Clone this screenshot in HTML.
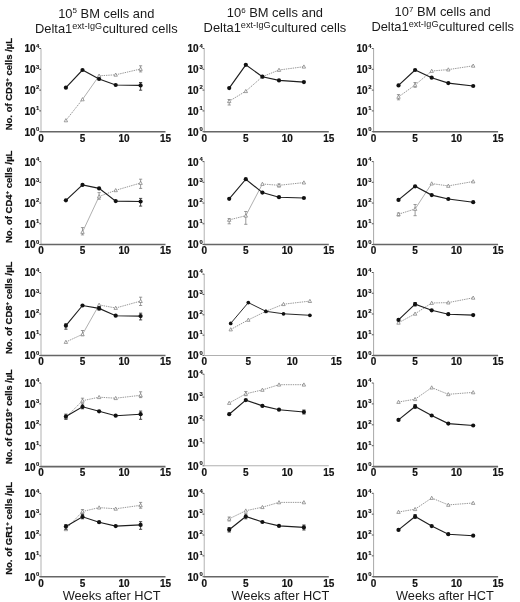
<!DOCTYPE html><html><head><meta charset="utf-8"><style>html,body{margin:0;padding:0;background:#fff;}svg{display:block;filter:grayscale(1);}text{font-family:"Liberation Sans", sans-serif;}</style></head><body>
<svg width="520" height="602" viewBox="0 0 520 602">
<rect width="520" height="602" fill="#fff"/>
<text x="106.3" y="17.5" font-size="12.9" text-anchor="middle" fill="#1a1a1a">10<tspan dy="-4.5" font-size="8">5</tspan><tspan dy="4.5"> BM cells and</tspan></text>
<text x="106.3" y="32.7" font-size="12.9" text-anchor="middle" fill="#1a1a1a">Delta1<tspan dy="-4.2" font-size="9.1">ext-IgG</tspan><tspan dx="0.3" dy="4.2">cultured cells</tspan></text>
<text x="274.9" y="17.3" font-size="12.9" text-anchor="middle" fill="#1a1a1a">10<tspan dy="-4.5" font-size="8">6</tspan><tspan dy="4.5"> BM cells and</tspan></text>
<text x="274.9" y="32.4" font-size="12.9" text-anchor="middle" fill="#1a1a1a">Delta1<tspan dy="-4.2" font-size="9.1">ext-IgG</tspan><tspan dx="0.3" dy="4.2">cultured cells</tspan></text>
<text x="442.7" y="16.4" font-size="12.9" text-anchor="middle" fill="#1a1a1a">10<tspan dy="-4.5" font-size="8">7</tspan><tspan dy="4.5"> BM cells and</tspan></text>
<text x="442.7" y="31.4" font-size="12.9" text-anchor="middle" fill="#1a1a1a">Delta1<tspan dy="-4.2" font-size="9.1">ext-IgG</tspan><tspan dx="0.3" dy="4.2">cultured cells</tspan></text>
<line x1="41" y1="48.5" x2="41" y2="131.7" stroke="#c8c8c8" stroke-width="1.4"/>
<line x1="39.2" y1="48.5" x2="41" y2="48.5" stroke="#555" stroke-width="1"/>
<text x="35.5" y="52.4" font-size="10" font-weight="bold" text-anchor="end" fill="#111" stroke="#111" stroke-width="0.18">10</text>
<text x="36" y="47.8" font-size="5.9" font-weight="bold" fill="#111" stroke="#111" stroke-width="0.12">4</text>
<line x1="39.2" y1="69.3" x2="41" y2="69.3" stroke="#555" stroke-width="1"/>
<text x="35.5" y="73.2" font-size="10" font-weight="bold" text-anchor="end" fill="#111" stroke="#111" stroke-width="0.18">10</text>
<text x="36" y="68.6" font-size="5.9" font-weight="bold" fill="#111" stroke="#111" stroke-width="0.12">3</text>
<line x1="39.2" y1="90.1" x2="41" y2="90.1" stroke="#555" stroke-width="1"/>
<text x="35.5" y="94" font-size="10" font-weight="bold" text-anchor="end" fill="#111" stroke="#111" stroke-width="0.18">10</text>
<text x="36" y="89.4" font-size="5.9" font-weight="bold" fill="#111" stroke="#111" stroke-width="0.12">2</text>
<line x1="39.2" y1="110.9" x2="41" y2="110.9" stroke="#555" stroke-width="1"/>
<text x="35.5" y="114.8" font-size="10" font-weight="bold" text-anchor="end" fill="#111" stroke="#111" stroke-width="0.18">10</text>
<text x="36" y="110.2" font-size="5.9" font-weight="bold" fill="#111" stroke="#111" stroke-width="0.12">1</text>
<line x1="39.2" y1="131.7" x2="41" y2="131.7" stroke="#555" stroke-width="1"/>
<text x="35.5" y="135.6" font-size="10" font-weight="bold" text-anchor="end" fill="#111" stroke="#111" stroke-width="0.18">10</text>
<text x="36" y="131" font-size="5.9" font-weight="bold" fill="#111" stroke="#111" stroke-width="0.12">0</text>
<line stroke="#666" stroke-width="1.6" x1="40.4" y1="131.7" x2="165.5" y2="131.7"/>
<text x="41" y="141.5" font-size="10" font-weight="bold" text-anchor="middle" fill="#111" stroke="#111" stroke-width="0.18">0</text>
<text x="82.5" y="141.5" font-size="10" font-weight="bold" text-anchor="middle" fill="#111" stroke="#111" stroke-width="0.18">5</text>
<text x="124" y="141.5" font-size="10" font-weight="bold" text-anchor="middle" fill="#111" stroke="#111" stroke-width="0.18">10</text>
<text x="165.5" y="141.5" font-size="10" font-weight="bold" text-anchor="middle" fill="#111" stroke="#111" stroke-width="0.18">15</text>
<line x1="65.9" y1="120.4" x2="82.5" y2="99.4" stroke="#8c8c8c" stroke-width="0.9" stroke-dasharray="1.4,0.9"/>
<line x1="82.5" y1="99.4" x2="99.1" y2="75.8" stroke="#a0a0a0" stroke-width="0.85"/>
<line x1="99.1" y1="75.8" x2="115.7" y2="74.8" stroke="#8c8c8c" stroke-width="0.9" stroke-dasharray="1.4,0.9"/>
<line x1="115.7" y1="74.8" x2="140.6" y2="69" stroke="#8c8c8c" stroke-width="0.9" stroke-dasharray="1.4,0.9"/>
<path d="M140.6 65.8V71.9M139 65.8H142.2M139 71.9H142.2" stroke="#888" stroke-width="0.85" fill="none"/>
<path d="M65.9 118.6L67.6 121.8L64.2 121.8Z" fill="#fff" stroke="#808080" stroke-width="0.75"/>
<path d="M82.5 97.6L84.2 100.8L80.8 100.8Z" fill="#fff" stroke="#808080" stroke-width="0.75"/>
<path d="M99.1 74L100.8 77.2L97.4 77.2Z" fill="#fff" stroke="#808080" stroke-width="0.75"/>
<path d="M115.7 73L117.4 76.2L114 76.2Z" fill="#fff" stroke="#808080" stroke-width="0.75"/>
<path d="M140.6 67.2L142.3 70.4L138.9 70.4Z" fill="#fff" stroke="#808080" stroke-width="0.75"/>
<polyline points="65.9,87.7 82.5,70 99.1,79 115.7,85 140.6,85.4" fill="none" stroke="#1e1e1e" stroke-width="1.15"/>
<path d="M140.6 82.5V90.2M139 82.5H142.2M139 90.2H142.2" stroke="#333" stroke-width="0.9" fill="none"/>
<circle cx="65.9" cy="87.7" r="2.1" fill="#111"/>
<circle cx="82.5" cy="70" r="2.1" fill="#111"/>
<circle cx="99.1" cy="79" r="2.1" fill="#111"/>
<circle cx="115.7" cy="85" r="2.1" fill="#111"/>
<circle cx="140.6" cy="85.4" r="2.1" fill="#111"/>
<line x1="204.3" y1="48.5" x2="204.3" y2="131.7" stroke="#c8c8c8" stroke-width="1.4"/>
<line x1="202.5" y1="48.5" x2="204.3" y2="48.5" stroke="#555" stroke-width="1"/>
<text x="198.6" y="52.4" font-size="10" font-weight="bold" text-anchor="end" fill="#111" stroke="#111" stroke-width="0.18">10</text>
<text x="199.5" y="47.8" font-size="5.9" font-weight="bold" fill="#111" stroke="#111" stroke-width="0.12">4</text>
<line x1="202.5" y1="69.3" x2="204.3" y2="69.3" stroke="#555" stroke-width="1"/>
<text x="198.6" y="73.2" font-size="10" font-weight="bold" text-anchor="end" fill="#111" stroke="#111" stroke-width="0.18">10</text>
<text x="199.5" y="68.6" font-size="5.9" font-weight="bold" fill="#111" stroke="#111" stroke-width="0.12">3</text>
<line x1="202.5" y1="90.1" x2="204.3" y2="90.1" stroke="#555" stroke-width="1"/>
<text x="198.6" y="94" font-size="10" font-weight="bold" text-anchor="end" fill="#111" stroke="#111" stroke-width="0.18">10</text>
<text x="199.5" y="89.4" font-size="5.9" font-weight="bold" fill="#111" stroke="#111" stroke-width="0.12">2</text>
<line x1="202.5" y1="110.9" x2="204.3" y2="110.9" stroke="#555" stroke-width="1"/>
<text x="198.6" y="114.8" font-size="10" font-weight="bold" text-anchor="end" fill="#111" stroke="#111" stroke-width="0.18">10</text>
<text x="199.5" y="110.2" font-size="5.9" font-weight="bold" fill="#111" stroke="#111" stroke-width="0.12">1</text>
<line x1="202.5" y1="131.7" x2="204.3" y2="131.7" stroke="#555" stroke-width="1"/>
<text x="198.6" y="135.6" font-size="10" font-weight="bold" text-anchor="end" fill="#111" stroke="#111" stroke-width="0.18">10</text>
<text x="199.5" y="131" font-size="5.9" font-weight="bold" fill="#111" stroke="#111" stroke-width="0.12">0</text>
<line stroke="#666" stroke-width="1.6" x1="203.7" y1="131.7" x2="328.8" y2="131.7"/>
<text x="204.3" y="141.5" font-size="10" font-weight="bold" text-anchor="middle" fill="#111" stroke="#111" stroke-width="0.18">0</text>
<text x="245.8" y="141.5" font-size="10" font-weight="bold" text-anchor="middle" fill="#111" stroke="#111" stroke-width="0.18">5</text>
<text x="287.3" y="141.5" font-size="10" font-weight="bold" text-anchor="middle" fill="#111" stroke="#111" stroke-width="0.18">10</text>
<text x="328.8" y="141.5" font-size="10" font-weight="bold" text-anchor="middle" fill="#111" stroke="#111" stroke-width="0.18">15</text>
<line x1="229.2" y1="101.2" x2="245.8" y2="91.2" stroke="#8c8c8c" stroke-width="0.9" stroke-dasharray="1.4,0.9"/>
<line x1="245.8" y1="91.2" x2="262.4" y2="76.7" stroke="#8c8c8c" stroke-width="0.9" stroke-dasharray="1.4,0.9"/>
<line x1="262.4" y1="76.7" x2="279" y2="70" stroke="#8c8c8c" stroke-width="0.9" stroke-dasharray="1.4,0.9"/>
<line x1="279" y1="70" x2="303.9" y2="66.7" stroke="#8c8c8c" stroke-width="0.9" stroke-dasharray="1.4,0.9"/>
<path d="M229.2 99.5V105M227.6 99.5H230.8M227.6 105H230.8" stroke="#888" stroke-width="0.85" fill="none"/>
<path d="M229.2 99.4L230.9 102.6L227.5 102.6Z" fill="#fff" stroke="#808080" stroke-width="0.75"/>
<path d="M245.8 89.4L247.5 92.6L244.1 92.6Z" fill="#fff" stroke="#808080" stroke-width="0.75"/>
<path d="M262.4 74.9L264.1 78.1L260.7 78.1Z" fill="#fff" stroke="#808080" stroke-width="0.75"/>
<path d="M279 68.2L280.7 71.4L277.3 71.4Z" fill="#fff" stroke="#808080" stroke-width="0.75"/>
<path d="M303.9 64.9L305.6 68.1L302.2 68.1Z" fill="#fff" stroke="#808080" stroke-width="0.75"/>
<polyline points="229.2,88.1 245.8,64.8 262.4,76.7 279,80.4 303.9,82.1" fill="none" stroke="#1e1e1e" stroke-width="1.15"/>
<circle cx="229.2" cy="88.1" r="2.1" fill="#111"/>
<circle cx="245.8" cy="64.8" r="2.1" fill="#111"/>
<circle cx="262.4" cy="76.7" r="2.1" fill="#111"/>
<circle cx="279" cy="80.4" r="2.1" fill="#111"/>
<circle cx="303.9" cy="82.1" r="2.1" fill="#111"/>
<line x1="373.6" y1="48.5" x2="373.6" y2="131.7" stroke="#a8a8a8" stroke-width="1"/>
<line x1="371.8" y1="48.5" x2="373.6" y2="48.5" stroke="#555" stroke-width="1"/>
<text x="367.7" y="52.4" font-size="10" font-weight="bold" text-anchor="end" fill="#111" stroke="#111" stroke-width="0.18">10</text>
<text x="368.3" y="47.8" font-size="5.9" font-weight="bold" fill="#111" stroke="#111" stroke-width="0.12">4</text>
<line x1="371.8" y1="69.3" x2="373.6" y2="69.3" stroke="#555" stroke-width="1"/>
<text x="367.7" y="73.2" font-size="10" font-weight="bold" text-anchor="end" fill="#111" stroke="#111" stroke-width="0.18">10</text>
<text x="368.3" y="68.6" font-size="5.9" font-weight="bold" fill="#111" stroke="#111" stroke-width="0.12">3</text>
<line x1="371.8" y1="90.1" x2="373.6" y2="90.1" stroke="#555" stroke-width="1"/>
<text x="367.7" y="94" font-size="10" font-weight="bold" text-anchor="end" fill="#111" stroke="#111" stroke-width="0.18">10</text>
<text x="368.3" y="89.4" font-size="5.9" font-weight="bold" fill="#111" stroke="#111" stroke-width="0.12">2</text>
<line x1="371.8" y1="110.9" x2="373.6" y2="110.9" stroke="#555" stroke-width="1"/>
<text x="367.7" y="114.8" font-size="10" font-weight="bold" text-anchor="end" fill="#111" stroke="#111" stroke-width="0.18">10</text>
<text x="368.3" y="110.2" font-size="5.9" font-weight="bold" fill="#111" stroke="#111" stroke-width="0.12">1</text>
<line x1="371.8" y1="131.7" x2="373.6" y2="131.7" stroke="#555" stroke-width="1"/>
<text x="367.7" y="135.6" font-size="10" font-weight="bold" text-anchor="end" fill="#111" stroke="#111" stroke-width="0.18">10</text>
<text x="368.3" y="131" font-size="5.9" font-weight="bold" fill="#111" stroke="#111" stroke-width="0.12">0</text>
<line stroke="#666" stroke-width="1.6" x1="373" y1="131.7" x2="498.1" y2="131.7"/>
<text x="373.6" y="141.5" font-size="10" font-weight="bold" text-anchor="middle" fill="#111" stroke="#111" stroke-width="0.18">0</text>
<text x="415.1" y="141.5" font-size="10" font-weight="bold" text-anchor="middle" fill="#111" stroke="#111" stroke-width="0.18">5</text>
<text x="456.6" y="141.5" font-size="10" font-weight="bold" text-anchor="middle" fill="#111" stroke="#111" stroke-width="0.18">10</text>
<text x="498.1" y="141.5" font-size="10" font-weight="bold" text-anchor="middle" fill="#111" stroke="#111" stroke-width="0.18">15</text>
<line x1="398.5" y1="96.9" x2="415.1" y2="85" stroke="#8c8c8c" stroke-width="0.9" stroke-dasharray="1.4,0.9"/>
<line x1="415.1" y1="85" x2="431.7" y2="71" stroke="#8c8c8c" stroke-width="0.9" stroke-dasharray="1.4,0.9"/>
<line x1="431.7" y1="71" x2="448.3" y2="69.6" stroke="#8c8c8c" stroke-width="0.9" stroke-dasharray="1.4,0.9"/>
<line x1="448.3" y1="69.6" x2="473.2" y2="65.8" stroke="#8c8c8c" stroke-width="0.9" stroke-dasharray="1.4,0.9"/>
<path d="M398.5 94.6V99.8M396.9 94.6H400.1M396.9 99.8H400.1" stroke="#888" stroke-width="0.85" fill="none"/>
<path d="M415.1 82.5V87.3M413.5 82.5H416.7M413.5 87.3H416.7" stroke="#888" stroke-width="0.85" fill="none"/>
<path d="M398.5 95.1L400.2 98.3L396.8 98.3Z" fill="#fff" stroke="#808080" stroke-width="0.75"/>
<path d="M415.1 83.2L416.8 86.4L413.4 86.4Z" fill="#fff" stroke="#808080" stroke-width="0.75"/>
<path d="M431.7 69.2L433.4 72.4L430 72.4Z" fill="#fff" stroke="#808080" stroke-width="0.75"/>
<path d="M448.3 67.8L450 71L446.6 71Z" fill="#fff" stroke="#808080" stroke-width="0.75"/>
<path d="M473.2 64L474.9 67.2L471.5 67.2Z" fill="#fff" stroke="#808080" stroke-width="0.75"/>
<polyline points="398.5,85.4 415.1,70 431.7,77.7 448.3,83.1 473.2,86" fill="none" stroke="#1e1e1e" stroke-width="1.15"/>
<circle cx="398.5" cy="85.4" r="2.1" fill="#111"/>
<circle cx="415.1" cy="70" r="2.1" fill="#111"/>
<circle cx="431.7" cy="77.7" r="2.1" fill="#111"/>
<circle cx="448.3" cy="83.1" r="2.1" fill="#111"/>
<circle cx="473.2" cy="86" r="2.1" fill="#111"/>
<text transform="translate(11.8 130.3) rotate(-90)" font-size="9.5" font-weight="bold" fill="#111" stroke="#111" stroke-width="0.22">No. of CD3<tspan dy="-3.3" font-size="6">+</tspan><tspan dy="3.3"> cells /µL</tspan></text>
<line x1="41" y1="161.6" x2="41" y2="244.5" stroke="#c8c8c8" stroke-width="1.4"/>
<line x1="39.2" y1="161.6" x2="41" y2="161.6" stroke="#555" stroke-width="1"/>
<text x="35.5" y="165.5" font-size="10" font-weight="bold" text-anchor="end" fill="#111" stroke="#111" stroke-width="0.18">10</text>
<text x="36" y="160.9" font-size="5.9" font-weight="bold" fill="#111" stroke="#111" stroke-width="0.12">4</text>
<line x1="39.2" y1="182.32" x2="41" y2="182.32" stroke="#555" stroke-width="1"/>
<text x="35.5" y="186.22" font-size="10" font-weight="bold" text-anchor="end" fill="#111" stroke="#111" stroke-width="0.18">10</text>
<text x="36" y="181.62" font-size="5.9" font-weight="bold" fill="#111" stroke="#111" stroke-width="0.12">3</text>
<line x1="39.2" y1="203.05" x2="41" y2="203.05" stroke="#555" stroke-width="1"/>
<text x="35.5" y="206.95" font-size="10" font-weight="bold" text-anchor="end" fill="#111" stroke="#111" stroke-width="0.18">10</text>
<text x="36" y="202.35" font-size="5.9" font-weight="bold" fill="#111" stroke="#111" stroke-width="0.12">2</text>
<line x1="39.2" y1="223.78" x2="41" y2="223.78" stroke="#555" stroke-width="1"/>
<text x="35.5" y="227.68" font-size="10" font-weight="bold" text-anchor="end" fill="#111" stroke="#111" stroke-width="0.18">10</text>
<text x="36" y="223.08" font-size="5.9" font-weight="bold" fill="#111" stroke="#111" stroke-width="0.12">1</text>
<line x1="39.2" y1="244.5" x2="41" y2="244.5" stroke="#555" stroke-width="1"/>
<text x="35.5" y="248.4" font-size="10" font-weight="bold" text-anchor="end" fill="#111" stroke="#111" stroke-width="0.18">10</text>
<text x="36" y="243.8" font-size="5.9" font-weight="bold" fill="#111" stroke="#111" stroke-width="0.12">0</text>
<line stroke="#666" stroke-width="1.6" x1="40.4" y1="244.5" x2="165.5" y2="244.5"/>
<text x="41" y="254.3" font-size="10" font-weight="bold" text-anchor="middle" fill="#111" stroke="#111" stroke-width="0.18">0</text>
<text x="82.5" y="254.3" font-size="10" font-weight="bold" text-anchor="middle" fill="#111" stroke="#111" stroke-width="0.18">5</text>
<text x="124" y="254.3" font-size="10" font-weight="bold" text-anchor="middle" fill="#111" stroke="#111" stroke-width="0.18">10</text>
<text x="165.5" y="254.3" font-size="10" font-weight="bold" text-anchor="middle" fill="#111" stroke="#111" stroke-width="0.18">15</text>
<line x1="82.5" y1="232" x2="99.1" y2="196.5" stroke="#a0a0a0" stroke-width="0.85"/>
<line x1="99.1" y1="196.5" x2="115.7" y2="190.3" stroke="#8c8c8c" stroke-width="0.9" stroke-dasharray="1.4,0.9"/>
<line x1="115.7" y1="190.3" x2="140.6" y2="183" stroke="#8c8c8c" stroke-width="0.9" stroke-dasharray="1.4,0.9"/>
<path d="M82.5 227.6V234.9M80.9 227.6H84.1M80.9 234.9H84.1" stroke="#888" stroke-width="0.85" fill="none"/>
<path d="M99.1 192.6V199.3M97.5 192.6H100.7M97.5 199.3H100.7" stroke="#888" stroke-width="0.85" fill="none"/>
<path d="M140.6 179.2V188.4M139 179.2H142.2M139 188.4H142.2" stroke="#888" stroke-width="0.85" fill="none"/>
<path d="M82.5 230.2L84.2 233.4L80.8 233.4Z" fill="#fff" stroke="#808080" stroke-width="0.75"/>
<path d="M99.1 194.7L100.8 197.9L97.4 197.9Z" fill="#fff" stroke="#808080" stroke-width="0.75"/>
<path d="M115.7 188.5L117.4 191.7L114 191.7Z" fill="#fff" stroke="#808080" stroke-width="0.75"/>
<path d="M140.6 181.2L142.3 184.4L138.9 184.4Z" fill="#fff" stroke="#808080" stroke-width="0.75"/>
<polyline points="65.9,200.3 82.5,184.9 99.1,188.4 115.7,201.1 140.6,201.5" fill="none" stroke="#1e1e1e" stroke-width="1.15"/>
<path d="M140.6 198.4V206.1M139 198.4H142.2M139 206.1H142.2" stroke="#333" stroke-width="0.9" fill="none"/>
<circle cx="65.9" cy="200.3" r="2.1" fill="#111"/>
<circle cx="82.5" cy="184.9" r="2.1" fill="#111"/>
<circle cx="99.1" cy="188.4" r="2.1" fill="#111"/>
<circle cx="115.7" cy="201.1" r="2.1" fill="#111"/>
<circle cx="140.6" cy="201.5" r="2.1" fill="#111"/>
<line x1="204.3" y1="161.6" x2="204.3" y2="244.5" stroke="#c8c8c8" stroke-width="1.4"/>
<line x1="202.5" y1="161.6" x2="204.3" y2="161.6" stroke="#555" stroke-width="1"/>
<text x="198.6" y="165.5" font-size="10" font-weight="bold" text-anchor="end" fill="#111" stroke="#111" stroke-width="0.18">10</text>
<text x="199.5" y="160.9" font-size="5.9" font-weight="bold" fill="#111" stroke="#111" stroke-width="0.12">4</text>
<line x1="202.5" y1="182.32" x2="204.3" y2="182.32" stroke="#555" stroke-width="1"/>
<text x="198.6" y="186.22" font-size="10" font-weight="bold" text-anchor="end" fill="#111" stroke="#111" stroke-width="0.18">10</text>
<text x="199.5" y="181.62" font-size="5.9" font-weight="bold" fill="#111" stroke="#111" stroke-width="0.12">3</text>
<line x1="202.5" y1="203.05" x2="204.3" y2="203.05" stroke="#555" stroke-width="1"/>
<text x="198.6" y="206.95" font-size="10" font-weight="bold" text-anchor="end" fill="#111" stroke="#111" stroke-width="0.18">10</text>
<text x="199.5" y="202.35" font-size="5.9" font-weight="bold" fill="#111" stroke="#111" stroke-width="0.12">2</text>
<line x1="202.5" y1="223.78" x2="204.3" y2="223.78" stroke="#555" stroke-width="1"/>
<text x="198.6" y="227.68" font-size="10" font-weight="bold" text-anchor="end" fill="#111" stroke="#111" stroke-width="0.18">10</text>
<text x="199.5" y="223.08" font-size="5.9" font-weight="bold" fill="#111" stroke="#111" stroke-width="0.12">1</text>
<line x1="202.5" y1="244.5" x2="204.3" y2="244.5" stroke="#555" stroke-width="1"/>
<text x="198.6" y="248.4" font-size="10" font-weight="bold" text-anchor="end" fill="#111" stroke="#111" stroke-width="0.18">10</text>
<text x="199.5" y="243.8" font-size="5.9" font-weight="bold" fill="#111" stroke="#111" stroke-width="0.12">0</text>
<line stroke="#666" stroke-width="1.6" x1="203.7" y1="244.5" x2="328.8" y2="244.5"/>
<text x="204.3" y="254.3" font-size="10" font-weight="bold" text-anchor="middle" fill="#111" stroke="#111" stroke-width="0.18">0</text>
<text x="245.8" y="254.3" font-size="10" font-weight="bold" text-anchor="middle" fill="#111" stroke="#111" stroke-width="0.18">5</text>
<text x="287.3" y="254.3" font-size="10" font-weight="bold" text-anchor="middle" fill="#111" stroke="#111" stroke-width="0.18">10</text>
<text x="328.8" y="254.3" font-size="10" font-weight="bold" text-anchor="middle" fill="#111" stroke="#111" stroke-width="0.18">15</text>
<line x1="229.2" y1="219.9" x2="245.8" y2="215.7" stroke="#8c8c8c" stroke-width="0.9" stroke-dasharray="1.4,0.9"/>
<line x1="245.8" y1="215.7" x2="262.4" y2="184" stroke="#a0a0a0" stroke-width="0.85"/>
<line x1="262.4" y1="184" x2="279" y2="185.3" stroke="#8c8c8c" stroke-width="0.9" stroke-dasharray="1.4,0.9"/>
<line x1="279" y1="185.3" x2="303.9" y2="182.6" stroke="#8c8c8c" stroke-width="0.9" stroke-dasharray="1.4,0.9"/>
<path d="M229.2 218.6V223.8M227.6 218.6H230.8M227.6 223.8H230.8" stroke="#888" stroke-width="0.85" fill="none"/>
<path d="M245.8 211.5V224.3M244.2 211.5H247.4M244.2 224.3H247.4" stroke="#888" stroke-width="0.85" fill="none"/>
<path d="M279 184V187M277.4 184H280.6M277.4 187H280.6" stroke="#888" stroke-width="0.85" fill="none"/>
<path d="M229.2 218.1L230.9 221.3L227.5 221.3Z" fill="#fff" stroke="#808080" stroke-width="0.75"/>
<path d="M245.8 213.9L247.5 217.1L244.1 217.1Z" fill="#fff" stroke="#808080" stroke-width="0.75"/>
<path d="M262.4 182.2L264.1 185.4L260.7 185.4Z" fill="#fff" stroke="#808080" stroke-width="0.75"/>
<path d="M279 183.5L280.7 186.7L277.3 186.7Z" fill="#fff" stroke="#808080" stroke-width="0.75"/>
<path d="M303.9 180.8L305.6 184L302.2 184Z" fill="#fff" stroke="#808080" stroke-width="0.75"/>
<polyline points="229.2,198.8 245.8,179.2 262.4,192.6 279,197.2 303.9,198" fill="none" stroke="#1e1e1e" stroke-width="1.15"/>
<circle cx="229.2" cy="198.8" r="2.1" fill="#111"/>
<circle cx="245.8" cy="179.2" r="2.1" fill="#111"/>
<circle cx="262.4" cy="192.6" r="2.1" fill="#111"/>
<circle cx="279" cy="197.2" r="2.1" fill="#111"/>
<circle cx="303.9" cy="198" r="2.1" fill="#111"/>
<line x1="373.6" y1="161.6" x2="373.6" y2="244.5" stroke="#a8a8a8" stroke-width="1"/>
<line x1="371.8" y1="161.6" x2="373.6" y2="161.6" stroke="#555" stroke-width="1"/>
<text x="367.7" y="165.5" font-size="10" font-weight="bold" text-anchor="end" fill="#111" stroke="#111" stroke-width="0.18">10</text>
<text x="368.3" y="160.9" font-size="5.9" font-weight="bold" fill="#111" stroke="#111" stroke-width="0.12">4</text>
<line x1="371.8" y1="182.32" x2="373.6" y2="182.32" stroke="#555" stroke-width="1"/>
<text x="367.7" y="186.22" font-size="10" font-weight="bold" text-anchor="end" fill="#111" stroke="#111" stroke-width="0.18">10</text>
<text x="368.3" y="181.62" font-size="5.9" font-weight="bold" fill="#111" stroke="#111" stroke-width="0.12">3</text>
<line x1="371.8" y1="203.05" x2="373.6" y2="203.05" stroke="#555" stroke-width="1"/>
<text x="367.7" y="206.95" font-size="10" font-weight="bold" text-anchor="end" fill="#111" stroke="#111" stroke-width="0.18">10</text>
<text x="368.3" y="202.35" font-size="5.9" font-weight="bold" fill="#111" stroke="#111" stroke-width="0.12">2</text>
<line x1="371.8" y1="223.78" x2="373.6" y2="223.78" stroke="#555" stroke-width="1"/>
<text x="367.7" y="227.68" font-size="10" font-weight="bold" text-anchor="end" fill="#111" stroke="#111" stroke-width="0.18">10</text>
<text x="368.3" y="223.08" font-size="5.9" font-weight="bold" fill="#111" stroke="#111" stroke-width="0.12">1</text>
<line x1="371.8" y1="244.5" x2="373.6" y2="244.5" stroke="#555" stroke-width="1"/>
<text x="367.7" y="248.4" font-size="10" font-weight="bold" text-anchor="end" fill="#111" stroke="#111" stroke-width="0.18">10</text>
<text x="368.3" y="243.8" font-size="5.9" font-weight="bold" fill="#111" stroke="#111" stroke-width="0.12">0</text>
<line stroke="#666" stroke-width="1.6" x1="373" y1="244.5" x2="498.1" y2="244.5"/>
<text x="373.6" y="254.3" font-size="10" font-weight="bold" text-anchor="middle" fill="#111" stroke="#111" stroke-width="0.18">0</text>
<text x="415.1" y="254.3" font-size="10" font-weight="bold" text-anchor="middle" fill="#111" stroke="#111" stroke-width="0.18">5</text>
<text x="456.6" y="254.3" font-size="10" font-weight="bold" text-anchor="middle" fill="#111" stroke="#111" stroke-width="0.18">10</text>
<text x="498.1" y="254.3" font-size="10" font-weight="bold" text-anchor="middle" fill="#111" stroke="#111" stroke-width="0.18">15</text>
<line x1="398.5" y1="214.2" x2="415.1" y2="209" stroke="#8c8c8c" stroke-width="0.9" stroke-dasharray="1.4,0.9"/>
<line x1="415.1" y1="209" x2="431.7" y2="183.6" stroke="#a0a0a0" stroke-width="0.85"/>
<line x1="431.7" y1="183.6" x2="448.3" y2="185.9" stroke="#8c8c8c" stroke-width="0.9" stroke-dasharray="1.4,0.9"/>
<line x1="448.3" y1="185.9" x2="473.2" y2="181.5" stroke="#8c8c8c" stroke-width="0.9" stroke-dasharray="1.4,0.9"/>
<path d="M398.5 213V216M396.9 213H400.1M396.9 216H400.1" stroke="#888" stroke-width="0.85" fill="none"/>
<path d="M415.1 204.5V215.7M413.5 204.5H416.7M413.5 215.7H416.7" stroke="#888" stroke-width="0.85" fill="none"/>
<path d="M398.5 212.4L400.2 215.6L396.8 215.6Z" fill="#fff" stroke="#808080" stroke-width="0.75"/>
<path d="M415.1 207.2L416.8 210.4L413.4 210.4Z" fill="#fff" stroke="#808080" stroke-width="0.75"/>
<path d="M431.7 181.8L433.4 185L430 185Z" fill="#fff" stroke="#808080" stroke-width="0.75"/>
<path d="M448.3 184.1L450 187.3L446.6 187.3Z" fill="#fff" stroke="#808080" stroke-width="0.75"/>
<path d="M473.2 179.7L474.9 182.9L471.5 182.9Z" fill="#fff" stroke="#808080" stroke-width="0.75"/>
<polyline points="398.5,199.9 415.1,186.3 431.7,195.1 448.3,199 473.2,202.2" fill="none" stroke="#1e1e1e" stroke-width="1.15"/>
<circle cx="398.5" cy="199.9" r="2.1" fill="#111"/>
<circle cx="415.1" cy="186.3" r="2.1" fill="#111"/>
<circle cx="431.7" cy="195.1" r="2.1" fill="#111"/>
<circle cx="448.3" cy="199" r="2.1" fill="#111"/>
<circle cx="473.2" cy="202.2" r="2.1" fill="#111"/>
<text transform="translate(11.8 243) rotate(-90)" font-size="9.5" font-weight="bold" fill="#111" stroke="#111" stroke-width="0.22">No. of CD4<tspan dy="-3.3" font-size="6">+</tspan><tspan dy="3.3"> cells /µL</tspan></text>
<line x1="41" y1="272.5" x2="41" y2="355.5" stroke="#c8c8c8" stroke-width="1.4"/>
<line x1="39.2" y1="272.5" x2="41" y2="272.5" stroke="#555" stroke-width="1"/>
<text x="35.5" y="276.4" font-size="10" font-weight="bold" text-anchor="end" fill="#111" stroke="#111" stroke-width="0.18">10</text>
<text x="36" y="271.8" font-size="5.9" font-weight="bold" fill="#111" stroke="#111" stroke-width="0.12">4</text>
<line x1="39.2" y1="293.25" x2="41" y2="293.25" stroke="#555" stroke-width="1"/>
<text x="35.5" y="297.15" font-size="10" font-weight="bold" text-anchor="end" fill="#111" stroke="#111" stroke-width="0.18">10</text>
<text x="36" y="292.55" font-size="5.9" font-weight="bold" fill="#111" stroke="#111" stroke-width="0.12">3</text>
<line x1="39.2" y1="314" x2="41" y2="314" stroke="#555" stroke-width="1"/>
<text x="35.5" y="317.9" font-size="10" font-weight="bold" text-anchor="end" fill="#111" stroke="#111" stroke-width="0.18">10</text>
<text x="36" y="313.3" font-size="5.9" font-weight="bold" fill="#111" stroke="#111" stroke-width="0.12">2</text>
<line x1="39.2" y1="334.75" x2="41" y2="334.75" stroke="#555" stroke-width="1"/>
<text x="35.5" y="338.65" font-size="10" font-weight="bold" text-anchor="end" fill="#111" stroke="#111" stroke-width="0.18">10</text>
<text x="36" y="334.05" font-size="5.9" font-weight="bold" fill="#111" stroke="#111" stroke-width="0.12">1</text>
<line x1="39.2" y1="355.5" x2="41" y2="355.5" stroke="#555" stroke-width="1"/>
<text x="35.5" y="359.4" font-size="10" font-weight="bold" text-anchor="end" fill="#111" stroke="#111" stroke-width="0.18">10</text>
<text x="36" y="354.8" font-size="5.9" font-weight="bold" fill="#111" stroke="#111" stroke-width="0.12">0</text>
<line stroke="#666" stroke-width="1.6" x1="40.4" y1="355.5" x2="165.5" y2="355.5"/>
<text x="41" y="365.3" font-size="10" font-weight="bold" text-anchor="middle" fill="#111" stroke="#111" stroke-width="0.18">0</text>
<text x="82.5" y="365.3" font-size="10" font-weight="bold" text-anchor="middle" fill="#111" stroke="#111" stroke-width="0.18">5</text>
<text x="124" y="365.3" font-size="10" font-weight="bold" text-anchor="middle" fill="#111" stroke="#111" stroke-width="0.18">10</text>
<text x="165.5" y="365.3" font-size="10" font-weight="bold" text-anchor="middle" fill="#111" stroke="#111" stroke-width="0.18">15</text>
<line x1="65.9" y1="342" x2="82.5" y2="334.3" stroke="#8c8c8c" stroke-width="0.9" stroke-dasharray="1.4,0.9"/>
<line x1="82.5" y1="334.3" x2="99.1" y2="304.9" stroke="#a0a0a0" stroke-width="0.85"/>
<line x1="99.1" y1="304.9" x2="115.7" y2="308" stroke="#8c8c8c" stroke-width="0.9" stroke-dasharray="1.4,0.9"/>
<line x1="115.7" y1="308" x2="140.6" y2="301.1" stroke="#8c8c8c" stroke-width="0.9" stroke-dasharray="1.4,0.9"/>
<path d="M82.5 330.5V335.7M80.9 330.5H84.1M80.9 335.7H84.1" stroke="#888" stroke-width="0.85" fill="none"/>
<path d="M140.6 297.2V305.5M139 297.2H142.2M139 305.5H142.2" stroke="#888" stroke-width="0.85" fill="none"/>
<path d="M65.9 340.2L67.6 343.4L64.2 343.4Z" fill="#fff" stroke="#808080" stroke-width="0.75"/>
<path d="M82.5 332.5L84.2 335.7L80.8 335.7Z" fill="#fff" stroke="#808080" stroke-width="0.75"/>
<path d="M99.1 303.1L100.8 306.3L97.4 306.3Z" fill="#fff" stroke="#808080" stroke-width="0.75"/>
<path d="M115.7 306.2L117.4 309.4L114 309.4Z" fill="#fff" stroke="#808080" stroke-width="0.75"/>
<path d="M140.6 299.3L142.3 302.5L138.9 302.5Z" fill="#fff" stroke="#808080" stroke-width="0.75"/>
<polyline points="65.9,325.7 82.5,305.5 99.1,308.4 115.7,315.7 140.6,316.1" fill="none" stroke="#1e1e1e" stroke-width="1.15"/>
<path d="M65.9 323.8V329.2M64.3 323.8H67.5M64.3 329.2H67.5" stroke="#333" stroke-width="0.9" fill="none"/>
<path d="M99.1 306.5V310M97.5 306.5H100.7M97.5 310H100.7" stroke="#333" stroke-width="0.9" fill="none"/>
<path d="M140.6 313.2V319.9M139 313.2H142.2M139 319.9H142.2" stroke="#333" stroke-width="0.9" fill="none"/>
<circle cx="65.9" cy="325.7" r="2.1" fill="#111"/>
<circle cx="82.5" cy="305.5" r="2.1" fill="#111"/>
<circle cx="99.1" cy="308.4" r="2.1" fill="#111"/>
<circle cx="115.7" cy="315.7" r="2.1" fill="#111"/>
<circle cx="140.6" cy="316.1" r="2.1" fill="#111"/>
<line x1="204.3" y1="274.1" x2="204.3" y2="355.5" stroke="#c8c8c8" stroke-width="1.4"/>
<line x1="202.5" y1="274.1" x2="204.3" y2="274.1" stroke="#555" stroke-width="1"/>
<text x="198.6" y="278" font-size="10" font-weight="bold" text-anchor="end" fill="#111" stroke="#111" stroke-width="0.18">10</text>
<text x="199.5" y="273.4" font-size="5.9" font-weight="bold" fill="#111" stroke="#111" stroke-width="0.12">4</text>
<line x1="202.5" y1="294.45" x2="204.3" y2="294.45" stroke="#555" stroke-width="1"/>
<text x="198.6" y="298.35" font-size="10" font-weight="bold" text-anchor="end" fill="#111" stroke="#111" stroke-width="0.18">10</text>
<text x="199.5" y="293.75" font-size="5.9" font-weight="bold" fill="#111" stroke="#111" stroke-width="0.12">3</text>
<line x1="202.5" y1="314.8" x2="204.3" y2="314.8" stroke="#555" stroke-width="1"/>
<text x="198.6" y="318.7" font-size="10" font-weight="bold" text-anchor="end" fill="#111" stroke="#111" stroke-width="0.18">10</text>
<text x="199.5" y="314.1" font-size="5.9" font-weight="bold" fill="#111" stroke="#111" stroke-width="0.12">2</text>
<line x1="202.5" y1="335.15" x2="204.3" y2="335.15" stroke="#555" stroke-width="1"/>
<text x="198.6" y="339.05" font-size="10" font-weight="bold" text-anchor="end" fill="#111" stroke="#111" stroke-width="0.18">10</text>
<text x="199.5" y="334.45" font-size="5.9" font-weight="bold" fill="#111" stroke="#111" stroke-width="0.12">1</text>
<line x1="202.5" y1="355.5" x2="204.3" y2="355.5" stroke="#555" stroke-width="1"/>
<text x="198.6" y="359.4" font-size="10" font-weight="bold" text-anchor="end" fill="#111" stroke="#111" stroke-width="0.18">10</text>
<text x="199.5" y="354.8" font-size="5.9" font-weight="bold" fill="#111" stroke="#111" stroke-width="0.12">0</text>
<line stroke="#b0b0b0" stroke-width="1.1" x1="203.7" y1="355.5" x2="336.3" y2="355.5"/>
<text x="204.3" y="365.3" font-size="10" font-weight="bold" text-anchor="middle" fill="#111" stroke="#111" stroke-width="0.18">0</text>
<text x="248.3" y="365.3" font-size="10" font-weight="bold" text-anchor="middle" fill="#111" stroke="#111" stroke-width="0.18">5</text>
<text x="292.3" y="365.3" font-size="10" font-weight="bold" text-anchor="middle" fill="#111" stroke="#111" stroke-width="0.18">10</text>
<text x="336.3" y="365.3" font-size="10" font-weight="bold" text-anchor="middle" fill="#111" stroke="#111" stroke-width="0.18">15</text>
<line x1="230.7" y1="329.5" x2="248.3" y2="319.9" stroke="#8c8c8c" stroke-width="0.9" stroke-dasharray="1.4,0.9"/>
<line x1="248.3" y1="319.9" x2="265.9" y2="311.3" stroke="#8c8c8c" stroke-width="0.9" stroke-dasharray="1.4,0.9"/>
<line x1="265.9" y1="311.3" x2="283.5" y2="304.2" stroke="#8c8c8c" stroke-width="0.9" stroke-dasharray="1.4,0.9"/>
<line x1="283.5" y1="304.2" x2="309.9" y2="301.1" stroke="#8c8c8c" stroke-width="0.9" stroke-dasharray="1.4,0.9"/>
<path d="M230.7 327.7L232.4 330.9L229 330.9Z" fill="#fff" stroke="#808080" stroke-width="0.75"/>
<path d="M248.3 318.1L250 321.3L246.6 321.3Z" fill="#fff" stroke="#808080" stroke-width="0.75"/>
<path d="M265.9 309.5L267.6 312.7L264.2 312.7Z" fill="#fff" stroke="#808080" stroke-width="0.75"/>
<path d="M283.5 302.4L285.2 305.6L281.8 305.6Z" fill="#fff" stroke="#808080" stroke-width="0.75"/>
<path d="M309.9 299.3L311.6 302.5L308.2 302.5Z" fill="#fff" stroke="#808080" stroke-width="0.75"/>
<polyline points="230.7,323.4 248.3,302.6 265.9,311.3 283.5,313.8 309.9,315.3" fill="none" stroke="#1e1e1e" stroke-width="0.95"/>
<circle cx="230.7" cy="323.4" r="1.85" fill="#111"/>
<circle cx="248.3" cy="302.6" r="1.85" fill="#111"/>
<circle cx="265.9" cy="311.3" r="1.85" fill="#111"/>
<circle cx="283.5" cy="313.8" r="1.85" fill="#111"/>
<circle cx="309.9" cy="315.3" r="1.85" fill="#111"/>
<line x1="373.6" y1="272.5" x2="373.6" y2="355.5" stroke="#a8a8a8" stroke-width="1"/>
<line x1="371.8" y1="272.5" x2="373.6" y2="272.5" stroke="#555" stroke-width="1"/>
<text x="367.7" y="276.4" font-size="10" font-weight="bold" text-anchor="end" fill="#111" stroke="#111" stroke-width="0.18">10</text>
<text x="368.3" y="271.8" font-size="5.9" font-weight="bold" fill="#111" stroke="#111" stroke-width="0.12">4</text>
<line x1="371.8" y1="293.25" x2="373.6" y2="293.25" stroke="#555" stroke-width="1"/>
<text x="367.7" y="297.15" font-size="10" font-weight="bold" text-anchor="end" fill="#111" stroke="#111" stroke-width="0.18">10</text>
<text x="368.3" y="292.55" font-size="5.9" font-weight="bold" fill="#111" stroke="#111" stroke-width="0.12">3</text>
<line x1="371.8" y1="314" x2="373.6" y2="314" stroke="#555" stroke-width="1"/>
<text x="367.7" y="317.9" font-size="10" font-weight="bold" text-anchor="end" fill="#111" stroke="#111" stroke-width="0.18">10</text>
<text x="368.3" y="313.3" font-size="5.9" font-weight="bold" fill="#111" stroke="#111" stroke-width="0.12">2</text>
<line x1="371.8" y1="334.75" x2="373.6" y2="334.75" stroke="#555" stroke-width="1"/>
<text x="367.7" y="338.65" font-size="10" font-weight="bold" text-anchor="end" fill="#111" stroke="#111" stroke-width="0.18">10</text>
<text x="368.3" y="334.05" font-size="5.9" font-weight="bold" fill="#111" stroke="#111" stroke-width="0.12">1</text>
<line x1="371.8" y1="355.5" x2="373.6" y2="355.5" stroke="#555" stroke-width="1"/>
<text x="367.7" y="359.4" font-size="10" font-weight="bold" text-anchor="end" fill="#111" stroke="#111" stroke-width="0.18">10</text>
<text x="368.3" y="354.8" font-size="5.9" font-weight="bold" fill="#111" stroke="#111" stroke-width="0.12">0</text>
<line stroke="#666" stroke-width="1.6" x1="373" y1="355.5" x2="498.1" y2="355.5"/>
<text x="373.6" y="365.3" font-size="10" font-weight="bold" text-anchor="middle" fill="#111" stroke="#111" stroke-width="0.18">0</text>
<text x="415.1" y="365.3" font-size="10" font-weight="bold" text-anchor="middle" fill="#111" stroke="#111" stroke-width="0.18">5</text>
<text x="456.6" y="365.3" font-size="10" font-weight="bold" text-anchor="middle" fill="#111" stroke="#111" stroke-width="0.18">10</text>
<text x="498.1" y="365.3" font-size="10" font-weight="bold" text-anchor="middle" fill="#111" stroke="#111" stroke-width="0.18">15</text>
<line x1="398.5" y1="322.8" x2="415.1" y2="313.8" stroke="#8c8c8c" stroke-width="0.9" stroke-dasharray="1.4,0.9"/>
<line x1="415.1" y1="313.8" x2="431.7" y2="303" stroke="#8c8c8c" stroke-width="0.9" stroke-dasharray="1.4,0.9"/>
<line x1="431.7" y1="303" x2="448.3" y2="302.6" stroke="#8c8c8c" stroke-width="0.9" stroke-dasharray="1.4,0.9"/>
<line x1="448.3" y1="302.6" x2="473.2" y2="297.8" stroke="#8c8c8c" stroke-width="0.9" stroke-dasharray="1.4,0.9"/>
<path d="M398.5 321L400.2 324.2L396.8 324.2Z" fill="#fff" stroke="#808080" stroke-width="0.75"/>
<path d="M415.1 312L416.8 315.2L413.4 315.2Z" fill="#fff" stroke="#808080" stroke-width="0.75"/>
<path d="M431.7 301.2L433.4 304.4L430 304.4Z" fill="#fff" stroke="#808080" stroke-width="0.75"/>
<path d="M448.3 300.8L450 304L446.6 304Z" fill="#fff" stroke="#808080" stroke-width="0.75"/>
<path d="M473.2 296L474.9 299.2L471.5 299.2Z" fill="#fff" stroke="#808080" stroke-width="0.75"/>
<polyline points="398.5,319.9 415.1,304.2 431.7,310.3 448.3,314.2 473.2,315.1" fill="none" stroke="#1e1e1e" stroke-width="1.15"/>
<path d="M415.1 302.5V306M413.5 302.5H416.7M413.5 306H416.7" stroke="#333" stroke-width="0.9" fill="none"/>
<circle cx="398.5" cy="319.9" r="2.1" fill="#111"/>
<circle cx="415.1" cy="304.2" r="2.1" fill="#111"/>
<circle cx="431.7" cy="310.3" r="2.1" fill="#111"/>
<circle cx="448.3" cy="314.2" r="2.1" fill="#111"/>
<circle cx="473.2" cy="315.1" r="2.1" fill="#111"/>
<text transform="translate(11.8 354) rotate(-90)" font-size="9.5" font-weight="bold" fill="#111" stroke="#111" stroke-width="0.22">No. of CD8<tspan dy="-3.3" font-size="6">+</tspan><tspan dy="3.3"> cells /µL</tspan></text>
<line x1="41" y1="383" x2="41" y2="466.6" stroke="#c8c8c8" stroke-width="1.4"/>
<line x1="39.2" y1="383" x2="41" y2="383" stroke="#555" stroke-width="1"/>
<text x="35.5" y="386.9" font-size="10" font-weight="bold" text-anchor="end" fill="#111" stroke="#111" stroke-width="0.18">10</text>
<text x="36" y="382.3" font-size="5.9" font-weight="bold" fill="#111" stroke="#111" stroke-width="0.12">4</text>
<line x1="39.2" y1="403.9" x2="41" y2="403.9" stroke="#555" stroke-width="1"/>
<text x="35.5" y="407.8" font-size="10" font-weight="bold" text-anchor="end" fill="#111" stroke="#111" stroke-width="0.18">10</text>
<text x="36" y="403.2" font-size="5.9" font-weight="bold" fill="#111" stroke="#111" stroke-width="0.12">3</text>
<line x1="39.2" y1="424.8" x2="41" y2="424.8" stroke="#555" stroke-width="1"/>
<text x="35.5" y="428.7" font-size="10" font-weight="bold" text-anchor="end" fill="#111" stroke="#111" stroke-width="0.18">10</text>
<text x="36" y="424.1" font-size="5.9" font-weight="bold" fill="#111" stroke="#111" stroke-width="0.12">2</text>
<line x1="39.2" y1="445.7" x2="41" y2="445.7" stroke="#555" stroke-width="1"/>
<text x="35.5" y="449.6" font-size="10" font-weight="bold" text-anchor="end" fill="#111" stroke="#111" stroke-width="0.18">10</text>
<text x="36" y="445" font-size="5.9" font-weight="bold" fill="#111" stroke="#111" stroke-width="0.12">1</text>
<line x1="39.2" y1="466.6" x2="41" y2="466.6" stroke="#555" stroke-width="1"/>
<text x="35.5" y="470.5" font-size="10" font-weight="bold" text-anchor="end" fill="#111" stroke="#111" stroke-width="0.18">10</text>
<text x="36" y="465.9" font-size="5.9" font-weight="bold" fill="#111" stroke="#111" stroke-width="0.12">0</text>
<line stroke="#666" stroke-width="1.6" x1="40.4" y1="466.6" x2="165.5" y2="466.6"/>
<text x="41" y="476.4" font-size="10" font-weight="bold" text-anchor="middle" fill="#111" stroke="#111" stroke-width="0.18">0</text>
<text x="82.5" y="476.4" font-size="10" font-weight="bold" text-anchor="middle" fill="#111" stroke="#111" stroke-width="0.18">5</text>
<text x="124" y="476.4" font-size="10" font-weight="bold" text-anchor="middle" fill="#111" stroke="#111" stroke-width="0.18">10</text>
<text x="165.5" y="476.4" font-size="10" font-weight="bold" text-anchor="middle" fill="#111" stroke="#111" stroke-width="0.18">15</text>
<line x1="65.9" y1="417.4" x2="82.5" y2="400.7" stroke="#8c8c8c" stroke-width="0.9" stroke-dasharray="1.4,0.9"/>
<line x1="82.5" y1="400.7" x2="99.1" y2="397.2" stroke="#8c8c8c" stroke-width="0.9" stroke-dasharray="1.4,0.9"/>
<line x1="99.1" y1="397.2" x2="115.7" y2="398.2" stroke="#8c8c8c" stroke-width="0.9" stroke-dasharray="1.4,0.9"/>
<line x1="115.7" y1="398.2" x2="140.6" y2="395.3" stroke="#8c8c8c" stroke-width="0.9" stroke-dasharray="1.4,0.9"/>
<path d="M82.5 398.2V402M80.9 398.2H84.1M80.9 402H84.1" stroke="#888" stroke-width="0.85" fill="none"/>
<path d="M140.6 391.8V397.6M139 391.8H142.2M139 397.6H142.2" stroke="#888" stroke-width="0.85" fill="none"/>
<path d="M65.9 415.6L67.6 418.8L64.2 418.8Z" fill="#fff" stroke="#808080" stroke-width="0.75"/>
<path d="M82.5 398.9L84.2 402.1L80.8 402.1Z" fill="#fff" stroke="#808080" stroke-width="0.75"/>
<path d="M99.1 395.4L100.8 398.6L97.4 398.6Z" fill="#fff" stroke="#808080" stroke-width="0.75"/>
<path d="M115.7 396.4L117.4 399.6L114 399.6Z" fill="#fff" stroke="#808080" stroke-width="0.75"/>
<path d="M140.6 393.5L142.3 396.7L138.9 396.7Z" fill="#fff" stroke="#808080" stroke-width="0.75"/>
<polyline points="65.9,416.5 82.5,406.8 99.1,411.3 115.7,415.7 140.6,414.2" fill="none" stroke="#1e1e1e" stroke-width="1.15"/>
<path d="M65.9 414.2V419.3M64.3 414.2H67.5M64.3 419.3H67.5" stroke="#333" stroke-width="0.9" fill="none"/>
<path d="M82.5 404V408.8M80.9 404H84.1M80.9 408.8H84.1" stroke="#333" stroke-width="0.9" fill="none"/>
<path d="M140.6 411.1V419.3M139 411.1H142.2M139 419.3H142.2" stroke="#333" stroke-width="0.9" fill="none"/>
<circle cx="65.9" cy="416.5" r="2.1" fill="#111"/>
<circle cx="82.5" cy="406.8" r="2.1" fill="#111"/>
<circle cx="99.1" cy="411.3" r="2.1" fill="#111"/>
<circle cx="115.7" cy="415.7" r="2.1" fill="#111"/>
<circle cx="140.6" cy="414.2" r="2.1" fill="#111"/>
<line x1="204.3" y1="374.2" x2="204.3" y2="465.8" stroke="#c8c8c8" stroke-width="1.4"/>
<line x1="202.5" y1="374.2" x2="204.3" y2="374.2" stroke="#555" stroke-width="1"/>
<text x="198.6" y="378.1" font-size="10" font-weight="bold" text-anchor="end" fill="#111" stroke="#111" stroke-width="0.18">10</text>
<text x="199.5" y="373.5" font-size="5.9" font-weight="bold" fill="#111" stroke="#111" stroke-width="0.12">4</text>
<line x1="202.5" y1="397.1" x2="204.3" y2="397.1" stroke="#555" stroke-width="1"/>
<text x="198.6" y="401" font-size="10" font-weight="bold" text-anchor="end" fill="#111" stroke="#111" stroke-width="0.18">10</text>
<text x="199.5" y="396.4" font-size="5.9" font-weight="bold" fill="#111" stroke="#111" stroke-width="0.12">3</text>
<line x1="202.5" y1="420" x2="204.3" y2="420" stroke="#555" stroke-width="1"/>
<text x="198.6" y="423.9" font-size="10" font-weight="bold" text-anchor="end" fill="#111" stroke="#111" stroke-width="0.18">10</text>
<text x="199.5" y="419.3" font-size="5.9" font-weight="bold" fill="#111" stroke="#111" stroke-width="0.12">2</text>
<line x1="202.5" y1="442.9" x2="204.3" y2="442.9" stroke="#555" stroke-width="1"/>
<text x="198.6" y="446.8" font-size="10" font-weight="bold" text-anchor="end" fill="#111" stroke="#111" stroke-width="0.18">10</text>
<text x="199.5" y="442.2" font-size="5.9" font-weight="bold" fill="#111" stroke="#111" stroke-width="0.12">1</text>
<line x1="202.5" y1="465.8" x2="204.3" y2="465.8" stroke="#555" stroke-width="1"/>
<text x="198.6" y="469.7" font-size="10" font-weight="bold" text-anchor="end" fill="#111" stroke="#111" stroke-width="0.18">10</text>
<text x="199.5" y="465.1" font-size="5.9" font-weight="bold" fill="#111" stroke="#111" stroke-width="0.12">0</text>
<line stroke="#b0b0b0" stroke-width="1.1" x1="203.7" y1="465.8" x2="328.8" y2="465.8"/>
<text x="204.3" y="475.6" font-size="10" font-weight="bold" text-anchor="middle" fill="#111" stroke="#111" stroke-width="0.18">0</text>
<text x="245.8" y="475.6" font-size="10" font-weight="bold" text-anchor="middle" fill="#111" stroke="#111" stroke-width="0.18">5</text>
<text x="287.3" y="475.6" font-size="10" font-weight="bold" text-anchor="middle" fill="#111" stroke="#111" stroke-width="0.18">10</text>
<text x="328.8" y="475.6" font-size="10" font-weight="bold" text-anchor="middle" fill="#111" stroke="#111" stroke-width="0.18">15</text>
<line x1="229.2" y1="403" x2="245.8" y2="393.8" stroke="#8c8c8c" stroke-width="0.9" stroke-dasharray="1.4,0.9"/>
<line x1="245.8" y1="393.8" x2="262.4" y2="389.9" stroke="#8c8c8c" stroke-width="0.9" stroke-dasharray="1.4,0.9"/>
<line x1="262.4" y1="389.9" x2="279" y2="384.7" stroke="#8c8c8c" stroke-width="0.9" stroke-dasharray="1.4,0.9"/>
<line x1="279" y1="384.7" x2="303.9" y2="384.7" stroke="#8c8c8c" stroke-width="0.9" stroke-dasharray="1.4,0.9"/>
<path d="M245.8 391.5V395.7M244.2 391.5H247.4M244.2 395.7H247.4" stroke="#888" stroke-width="0.85" fill="none"/>
<path d="M229.2 401.2L230.9 404.4L227.5 404.4Z" fill="#fff" stroke="#808080" stroke-width="0.75"/>
<path d="M245.8 392L247.5 395.2L244.1 395.2Z" fill="#fff" stroke="#808080" stroke-width="0.75"/>
<path d="M262.4 388.1L264.1 391.3L260.7 391.3Z" fill="#fff" stroke="#808080" stroke-width="0.75"/>
<path d="M279 382.9L280.7 386.1L277.3 386.1Z" fill="#fff" stroke="#808080" stroke-width="0.75"/>
<path d="M303.9 382.9L305.6 386.1L302.2 386.1Z" fill="#fff" stroke="#808080" stroke-width="0.75"/>
<polyline points="229.2,414.2 245.8,400.1 262.4,405.9 279,409.7 303.9,412" fill="none" stroke="#1e1e1e" stroke-width="1.15"/>
<path d="M303.9 410V414M302.3 410H305.5M302.3 414H305.5" stroke="#333" stroke-width="0.9" fill="none"/>
<circle cx="229.2" cy="414.2" r="2.1" fill="#111"/>
<circle cx="245.8" cy="400.1" r="2.1" fill="#111"/>
<circle cx="262.4" cy="405.9" r="2.1" fill="#111"/>
<circle cx="279" cy="409.7" r="2.1" fill="#111"/>
<circle cx="303.9" cy="412" r="2.1" fill="#111"/>
<line x1="373.6" y1="383" x2="373.6" y2="466.6" stroke="#a8a8a8" stroke-width="1"/>
<line x1="371.8" y1="383" x2="373.6" y2="383" stroke="#555" stroke-width="1"/>
<text x="367.7" y="386.9" font-size="10" font-weight="bold" text-anchor="end" fill="#111" stroke="#111" stroke-width="0.18">10</text>
<text x="368.3" y="382.3" font-size="5.9" font-weight="bold" fill="#111" stroke="#111" stroke-width="0.12">4</text>
<line x1="371.8" y1="403.9" x2="373.6" y2="403.9" stroke="#555" stroke-width="1"/>
<text x="367.7" y="407.8" font-size="10" font-weight="bold" text-anchor="end" fill="#111" stroke="#111" stroke-width="0.18">10</text>
<text x="368.3" y="403.2" font-size="5.9" font-weight="bold" fill="#111" stroke="#111" stroke-width="0.12">3</text>
<line x1="371.8" y1="424.8" x2="373.6" y2="424.8" stroke="#555" stroke-width="1"/>
<text x="367.7" y="428.7" font-size="10" font-weight="bold" text-anchor="end" fill="#111" stroke="#111" stroke-width="0.18">10</text>
<text x="368.3" y="424.1" font-size="5.9" font-weight="bold" fill="#111" stroke="#111" stroke-width="0.12">2</text>
<line x1="371.8" y1="445.7" x2="373.6" y2="445.7" stroke="#555" stroke-width="1"/>
<text x="367.7" y="449.6" font-size="10" font-weight="bold" text-anchor="end" fill="#111" stroke="#111" stroke-width="0.18">10</text>
<text x="368.3" y="445" font-size="5.9" font-weight="bold" fill="#111" stroke="#111" stroke-width="0.12">1</text>
<line x1="371.8" y1="466.6" x2="373.6" y2="466.6" stroke="#555" stroke-width="1"/>
<text x="367.7" y="470.5" font-size="10" font-weight="bold" text-anchor="end" fill="#111" stroke="#111" stroke-width="0.18">10</text>
<text x="368.3" y="465.9" font-size="5.9" font-weight="bold" fill="#111" stroke="#111" stroke-width="0.12">0</text>
<line stroke="#666" stroke-width="1.6" x1="373" y1="466.6" x2="498.1" y2="466.6"/>
<text x="373.6" y="476.4" font-size="10" font-weight="bold" text-anchor="middle" fill="#111" stroke="#111" stroke-width="0.18">0</text>
<text x="415.1" y="476.4" font-size="10" font-weight="bold" text-anchor="middle" fill="#111" stroke="#111" stroke-width="0.18">5</text>
<text x="456.6" y="476.4" font-size="10" font-weight="bold" text-anchor="middle" fill="#111" stroke="#111" stroke-width="0.18">10</text>
<text x="498.1" y="476.4" font-size="10" font-weight="bold" text-anchor="middle" fill="#111" stroke="#111" stroke-width="0.18">15</text>
<line x1="398.5" y1="402" x2="415.1" y2="399.2" stroke="#8c8c8c" stroke-width="0.9" stroke-dasharray="1.4,0.9"/>
<line x1="415.1" y1="399.2" x2="431.7" y2="387.6" stroke="#8c8c8c" stroke-width="0.9" stroke-dasharray="1.4,0.9"/>
<line x1="431.7" y1="387.6" x2="448.3" y2="394.3" stroke="#8c8c8c" stroke-width="0.9" stroke-dasharray="1.4,0.9"/>
<line x1="448.3" y1="394.3" x2="473.2" y2="392.4" stroke="#8c8c8c" stroke-width="0.9" stroke-dasharray="1.4,0.9"/>
<path d="M398.5 400.2L400.2 403.4L396.8 403.4Z" fill="#fff" stroke="#808080" stroke-width="0.75"/>
<path d="M415.1 397.4L416.8 400.6L413.4 400.6Z" fill="#fff" stroke="#808080" stroke-width="0.75"/>
<path d="M431.7 385.8L433.4 389L430 389Z" fill="#fff" stroke="#808080" stroke-width="0.75"/>
<path d="M448.3 392.5L450 395.7L446.6 395.7Z" fill="#fff" stroke="#808080" stroke-width="0.75"/>
<path d="M473.2 390.6L474.9 393.8L471.5 393.8Z" fill="#fff" stroke="#808080" stroke-width="0.75"/>
<polyline points="398.5,419.9 415.1,406.5 431.7,415.5 448.3,423.6 473.2,425.5" fill="none" stroke="#1e1e1e" stroke-width="1.15"/>
<path d="M415.1 404.5V408.4M413.5 404.5H416.7M413.5 408.4H416.7" stroke="#333" stroke-width="0.9" fill="none"/>
<circle cx="398.5" cy="419.9" r="2.1" fill="#111"/>
<circle cx="415.1" cy="406.5" r="2.1" fill="#111"/>
<circle cx="431.7" cy="415.5" r="2.1" fill="#111"/>
<circle cx="448.3" cy="423.6" r="2.1" fill="#111"/>
<circle cx="473.2" cy="425.5" r="2.1" fill="#111"/>
<text transform="translate(11.8 464) rotate(-90)" font-size="9.2" font-weight="bold" fill="#111" stroke="#111" stroke-width="0.22">No. of CD19<tspan dy="-3.3" font-size="6">+</tspan><tspan dy="3.3"> cells /µL</tspan></text>
<line x1="41" y1="493.3" x2="41" y2="576.7" stroke="#c8c8c8" stroke-width="1.4"/>
<line x1="39.2" y1="493.3" x2="41" y2="493.3" stroke="#555" stroke-width="1"/>
<text x="35.5" y="497.2" font-size="10" font-weight="bold" text-anchor="end" fill="#111" stroke="#111" stroke-width="0.18">10</text>
<text x="36" y="492.6" font-size="5.9" font-weight="bold" fill="#111" stroke="#111" stroke-width="0.12">4</text>
<line x1="39.2" y1="514.15" x2="41" y2="514.15" stroke="#555" stroke-width="1"/>
<text x="35.5" y="518.05" font-size="10" font-weight="bold" text-anchor="end" fill="#111" stroke="#111" stroke-width="0.18">10</text>
<text x="36" y="513.45" font-size="5.9" font-weight="bold" fill="#111" stroke="#111" stroke-width="0.12">3</text>
<line x1="39.2" y1="535" x2="41" y2="535" stroke="#555" stroke-width="1"/>
<text x="35.5" y="538.9" font-size="10" font-weight="bold" text-anchor="end" fill="#111" stroke="#111" stroke-width="0.18">10</text>
<text x="36" y="534.3" font-size="5.9" font-weight="bold" fill="#111" stroke="#111" stroke-width="0.12">2</text>
<line x1="39.2" y1="555.85" x2="41" y2="555.85" stroke="#555" stroke-width="1"/>
<text x="35.5" y="559.75" font-size="10" font-weight="bold" text-anchor="end" fill="#111" stroke="#111" stroke-width="0.18">10</text>
<text x="36" y="555.15" font-size="5.9" font-weight="bold" fill="#111" stroke="#111" stroke-width="0.12">1</text>
<line x1="39.2" y1="576.7" x2="41" y2="576.7" stroke="#555" stroke-width="1"/>
<text x="35.5" y="580.6" font-size="10" font-weight="bold" text-anchor="end" fill="#111" stroke="#111" stroke-width="0.18">10</text>
<text x="36" y="576" font-size="5.9" font-weight="bold" fill="#111" stroke="#111" stroke-width="0.12">0</text>
<line stroke="#666" stroke-width="1.6" x1="40.4" y1="576.7" x2="165.5" y2="576.7"/>
<text x="41" y="586.5" font-size="10" font-weight="bold" text-anchor="middle" fill="#111" stroke="#111" stroke-width="0.18">0</text>
<text x="82.5" y="586.5" font-size="10" font-weight="bold" text-anchor="middle" fill="#111" stroke="#111" stroke-width="0.18">5</text>
<text x="124" y="586.5" font-size="10" font-weight="bold" text-anchor="middle" fill="#111" stroke="#111" stroke-width="0.18">10</text>
<text x="165.5" y="586.5" font-size="10" font-weight="bold" text-anchor="middle" fill="#111" stroke="#111" stroke-width="0.18">15</text>
<line x1="65.9" y1="529.3" x2="82.5" y2="511.5" stroke="#8c8c8c" stroke-width="0.9" stroke-dasharray="1.4,0.9"/>
<line x1="82.5" y1="511.5" x2="99.1" y2="507.6" stroke="#8c8c8c" stroke-width="0.9" stroke-dasharray="1.4,0.9"/>
<line x1="99.1" y1="507.6" x2="115.7" y2="508.8" stroke="#8c8c8c" stroke-width="0.9" stroke-dasharray="1.4,0.9"/>
<line x1="115.7" y1="508.8" x2="140.6" y2="505.3" stroke="#8c8c8c" stroke-width="0.9" stroke-dasharray="1.4,0.9"/>
<path d="M82.5 509.5V513.4M80.9 509.5H84.1M80.9 513.4H84.1" stroke="#888" stroke-width="0.85" fill="none"/>
<path d="M140.6 502.4V508.2M139 502.4H142.2M139 508.2H142.2" stroke="#888" stroke-width="0.85" fill="none"/>
<path d="M65.9 527.5L67.6 530.7L64.2 530.7Z" fill="#fff" stroke="#808080" stroke-width="0.75"/>
<path d="M82.5 509.7L84.2 512.9L80.8 512.9Z" fill="#fff" stroke="#808080" stroke-width="0.75"/>
<path d="M99.1 505.8L100.8 509L97.4 509Z" fill="#fff" stroke="#808080" stroke-width="0.75"/>
<path d="M115.7 507L117.4 510.2L114 510.2Z" fill="#fff" stroke="#808080" stroke-width="0.75"/>
<path d="M140.6 503.5L142.3 506.7L138.9 506.7Z" fill="#fff" stroke="#808080" stroke-width="0.75"/>
<polyline points="65.9,526.5 82.5,516.8 99.1,522.2 115.7,526.1 140.6,524.9" fill="none" stroke="#1e1e1e" stroke-width="1.15"/>
<path d="M65.9 524.5V529.3M64.3 524.5H67.5M64.3 529.3H67.5" stroke="#333" stroke-width="0.9" fill="none"/>
<path d="M82.5 514.5V518.8M80.9 514.5H84.1M80.9 518.8H84.1" stroke="#333" stroke-width="0.9" fill="none"/>
<path d="M140.6 521.7V529.3M139 521.7H142.2M139 529.3H142.2" stroke="#333" stroke-width="0.9" fill="none"/>
<circle cx="65.9" cy="526.5" r="2.1" fill="#111"/>
<circle cx="82.5" cy="516.8" r="2.1" fill="#111"/>
<circle cx="99.1" cy="522.2" r="2.1" fill="#111"/>
<circle cx="115.7" cy="526.1" r="2.1" fill="#111"/>
<circle cx="140.6" cy="524.9" r="2.1" fill="#111"/>
<line x1="204.3" y1="493.3" x2="204.3" y2="576.7" stroke="#c8c8c8" stroke-width="1.4"/>
<line x1="202.5" y1="493.3" x2="204.3" y2="493.3" stroke="#555" stroke-width="1"/>
<text x="198.6" y="497.2" font-size="10" font-weight="bold" text-anchor="end" fill="#111" stroke="#111" stroke-width="0.18">10</text>
<text x="199.5" y="492.6" font-size="5.9" font-weight="bold" fill="#111" stroke="#111" stroke-width="0.12">4</text>
<line x1="202.5" y1="514.15" x2="204.3" y2="514.15" stroke="#555" stroke-width="1"/>
<text x="198.6" y="518.05" font-size="10" font-weight="bold" text-anchor="end" fill="#111" stroke="#111" stroke-width="0.18">10</text>
<text x="199.5" y="513.45" font-size="5.9" font-weight="bold" fill="#111" stroke="#111" stroke-width="0.12">3</text>
<line x1="202.5" y1="535" x2="204.3" y2="535" stroke="#555" stroke-width="1"/>
<text x="198.6" y="538.9" font-size="10" font-weight="bold" text-anchor="end" fill="#111" stroke="#111" stroke-width="0.18">10</text>
<text x="199.5" y="534.3" font-size="5.9" font-weight="bold" fill="#111" stroke="#111" stroke-width="0.12">2</text>
<line x1="202.5" y1="555.85" x2="204.3" y2="555.85" stroke="#555" stroke-width="1"/>
<text x="198.6" y="559.75" font-size="10" font-weight="bold" text-anchor="end" fill="#111" stroke="#111" stroke-width="0.18">10</text>
<text x="199.5" y="555.15" font-size="5.9" font-weight="bold" fill="#111" stroke="#111" stroke-width="0.12">1</text>
<line x1="202.5" y1="576.7" x2="204.3" y2="576.7" stroke="#555" stroke-width="1"/>
<text x="198.6" y="580.6" font-size="10" font-weight="bold" text-anchor="end" fill="#111" stroke="#111" stroke-width="0.18">10</text>
<text x="199.5" y="576" font-size="5.9" font-weight="bold" fill="#111" stroke="#111" stroke-width="0.12">0</text>
<line stroke="#666" stroke-width="1.6" x1="203.7" y1="576.7" x2="328.8" y2="576.7"/>
<text x="204.3" y="586.5" font-size="10" font-weight="bold" text-anchor="middle" fill="#111" stroke="#111" stroke-width="0.18">0</text>
<text x="245.8" y="586.5" font-size="10" font-weight="bold" text-anchor="middle" fill="#111" stroke="#111" stroke-width="0.18">5</text>
<text x="287.3" y="586.5" font-size="10" font-weight="bold" text-anchor="middle" fill="#111" stroke="#111" stroke-width="0.18">10</text>
<text x="328.8" y="586.5" font-size="10" font-weight="bold" text-anchor="middle" fill="#111" stroke="#111" stroke-width="0.18">15</text>
<line x1="229.2" y1="518.8" x2="245.8" y2="510.7" stroke="#8c8c8c" stroke-width="0.9" stroke-dasharray="1.4,0.9"/>
<line x1="245.8" y1="510.7" x2="262.4" y2="507.2" stroke="#8c8c8c" stroke-width="0.9" stroke-dasharray="1.4,0.9"/>
<line x1="262.4" y1="507.2" x2="279" y2="502.4" stroke="#8c8c8c" stroke-width="0.9" stroke-dasharray="1.4,0.9"/>
<line x1="279" y1="502.4" x2="303.9" y2="502.4" stroke="#8c8c8c" stroke-width="0.9" stroke-dasharray="1.4,0.9"/>
<path d="M229.2 517V521M227.6 517H230.8M227.6 521H230.8" stroke="#888" stroke-width="0.85" fill="none"/>
<path d="M229.2 517L230.9 520.2L227.5 520.2Z" fill="#fff" stroke="#808080" stroke-width="0.75"/>
<path d="M245.8 508.9L247.5 512.1L244.1 512.1Z" fill="#fff" stroke="#808080" stroke-width="0.75"/>
<path d="M262.4 505.4L264.1 508.6L260.7 508.6Z" fill="#fff" stroke="#808080" stroke-width="0.75"/>
<path d="M279 500.6L280.7 503.8L277.3 503.8Z" fill="#fff" stroke="#808080" stroke-width="0.75"/>
<path d="M303.9 500.6L305.6 503.8L302.2 503.8Z" fill="#fff" stroke="#808080" stroke-width="0.75"/>
<polyline points="229.2,529.7 245.8,516.5 262.4,522 279,525.9 303.9,527.4" fill="none" stroke="#1e1e1e" stroke-width="1.15"/>
<path d="M229.2 527.5V532M227.6 527.5H230.8M227.6 532H230.8" stroke="#333" stroke-width="0.9" fill="none"/>
<path d="M245.8 514V518.8M244.2 514H247.4M244.2 518.8H247.4" stroke="#333" stroke-width="0.9" fill="none"/>
<path d="M303.9 525V530M302.3 525H305.5M302.3 530H305.5" stroke="#333" stroke-width="0.9" fill="none"/>
<circle cx="229.2" cy="529.7" r="2.1" fill="#111"/>
<circle cx="245.8" cy="516.5" r="2.1" fill="#111"/>
<circle cx="262.4" cy="522" r="2.1" fill="#111"/>
<circle cx="279" cy="525.9" r="2.1" fill="#111"/>
<circle cx="303.9" cy="527.4" r="2.1" fill="#111"/>
<line x1="373.6" y1="493.3" x2="373.6" y2="576.7" stroke="#a8a8a8" stroke-width="1"/>
<line x1="371.8" y1="493.3" x2="373.6" y2="493.3" stroke="#555" stroke-width="1"/>
<text x="367.7" y="497.2" font-size="10" font-weight="bold" text-anchor="end" fill="#111" stroke="#111" stroke-width="0.18">10</text>
<text x="368.3" y="492.6" font-size="5.9" font-weight="bold" fill="#111" stroke="#111" stroke-width="0.12">4</text>
<line x1="371.8" y1="514.15" x2="373.6" y2="514.15" stroke="#555" stroke-width="1"/>
<text x="367.7" y="518.05" font-size="10" font-weight="bold" text-anchor="end" fill="#111" stroke="#111" stroke-width="0.18">10</text>
<text x="368.3" y="513.45" font-size="5.9" font-weight="bold" fill="#111" stroke="#111" stroke-width="0.12">3</text>
<line x1="371.8" y1="535" x2="373.6" y2="535" stroke="#555" stroke-width="1"/>
<text x="367.7" y="538.9" font-size="10" font-weight="bold" text-anchor="end" fill="#111" stroke="#111" stroke-width="0.18">10</text>
<text x="368.3" y="534.3" font-size="5.9" font-weight="bold" fill="#111" stroke="#111" stroke-width="0.12">2</text>
<line x1="371.8" y1="555.85" x2="373.6" y2="555.85" stroke="#555" stroke-width="1"/>
<text x="367.7" y="559.75" font-size="10" font-weight="bold" text-anchor="end" fill="#111" stroke="#111" stroke-width="0.18">10</text>
<text x="368.3" y="555.15" font-size="5.9" font-weight="bold" fill="#111" stroke="#111" stroke-width="0.12">1</text>
<line x1="371.8" y1="576.7" x2="373.6" y2="576.7" stroke="#555" stroke-width="1"/>
<text x="367.7" y="580.6" font-size="10" font-weight="bold" text-anchor="end" fill="#111" stroke="#111" stroke-width="0.18">10</text>
<text x="368.3" y="576" font-size="5.9" font-weight="bold" fill="#111" stroke="#111" stroke-width="0.12">0</text>
<line stroke="#666" stroke-width="1.6" x1="373" y1="576.7" x2="498.1" y2="576.7"/>
<text x="373.6" y="586.5" font-size="10" font-weight="bold" text-anchor="middle" fill="#111" stroke="#111" stroke-width="0.18">0</text>
<text x="415.1" y="586.5" font-size="10" font-weight="bold" text-anchor="middle" fill="#111" stroke="#111" stroke-width="0.18">5</text>
<text x="456.6" y="586.5" font-size="10" font-weight="bold" text-anchor="middle" fill="#111" stroke="#111" stroke-width="0.18">10</text>
<text x="498.1" y="586.5" font-size="10" font-weight="bold" text-anchor="middle" fill="#111" stroke="#111" stroke-width="0.18">15</text>
<line x1="398.5" y1="512" x2="415.1" y2="509.2" stroke="#8c8c8c" stroke-width="0.9" stroke-dasharray="1.4,0.9"/>
<line x1="415.1" y1="509.2" x2="431.7" y2="498" stroke="#8c8c8c" stroke-width="0.9" stroke-dasharray="1.4,0.9"/>
<line x1="431.7" y1="498" x2="448.3" y2="504.9" stroke="#8c8c8c" stroke-width="0.9" stroke-dasharray="1.4,0.9"/>
<line x1="448.3" y1="504.9" x2="473.2" y2="503" stroke="#8c8c8c" stroke-width="0.9" stroke-dasharray="1.4,0.9"/>
<path d="M398.5 510.2L400.2 513.4L396.8 513.4Z" fill="#fff" stroke="#808080" stroke-width="0.75"/>
<path d="M415.1 507.4L416.8 510.6L413.4 510.6Z" fill="#fff" stroke="#808080" stroke-width="0.75"/>
<path d="M431.7 496.2L433.4 499.4L430 499.4Z" fill="#fff" stroke="#808080" stroke-width="0.75"/>
<path d="M448.3 503.1L450 506.3L446.6 506.3Z" fill="#fff" stroke="#808080" stroke-width="0.75"/>
<path d="M473.2 501.2L474.9 504.4L471.5 504.4Z" fill="#fff" stroke="#808080" stroke-width="0.75"/>
<polyline points="398.5,529.9 415.1,516.5 431.7,526.1 448.3,534.2 473.2,535.7" fill="none" stroke="#1e1e1e" stroke-width="1.15"/>
<path d="M415.1 514.5V518.5M413.5 514.5H416.7M413.5 518.5H416.7" stroke="#333" stroke-width="0.9" fill="none"/>
<circle cx="398.5" cy="529.9" r="2.1" fill="#111"/>
<circle cx="415.1" cy="516.5" r="2.1" fill="#111"/>
<circle cx="431.7" cy="526.1" r="2.1" fill="#111"/>
<circle cx="448.3" cy="534.2" r="2.1" fill="#111"/>
<circle cx="473.2" cy="535.7" r="2.1" fill="#111"/>
<text transform="translate(11.8 574.8) rotate(-90)" font-size="9.5" font-weight="bold" fill="#111" stroke="#111" stroke-width="0.22">No. of GR1<tspan dy="-3.3" font-size="6">+</tspan><tspan dy="3.3"> cells /µL</tspan></text>
<text x="111.6" y="600" font-size="12.8" text-anchor="middle" fill="#1a1a1a">Weeks after HCT</text>
<text x="280.4" y="600" font-size="12.8" text-anchor="middle" fill="#1a1a1a">Weeks after HCT</text>
<text x="444.9" y="600" font-size="12.8" text-anchor="middle" fill="#1a1a1a">Weeks after HCT</text>
</svg></body></html>
